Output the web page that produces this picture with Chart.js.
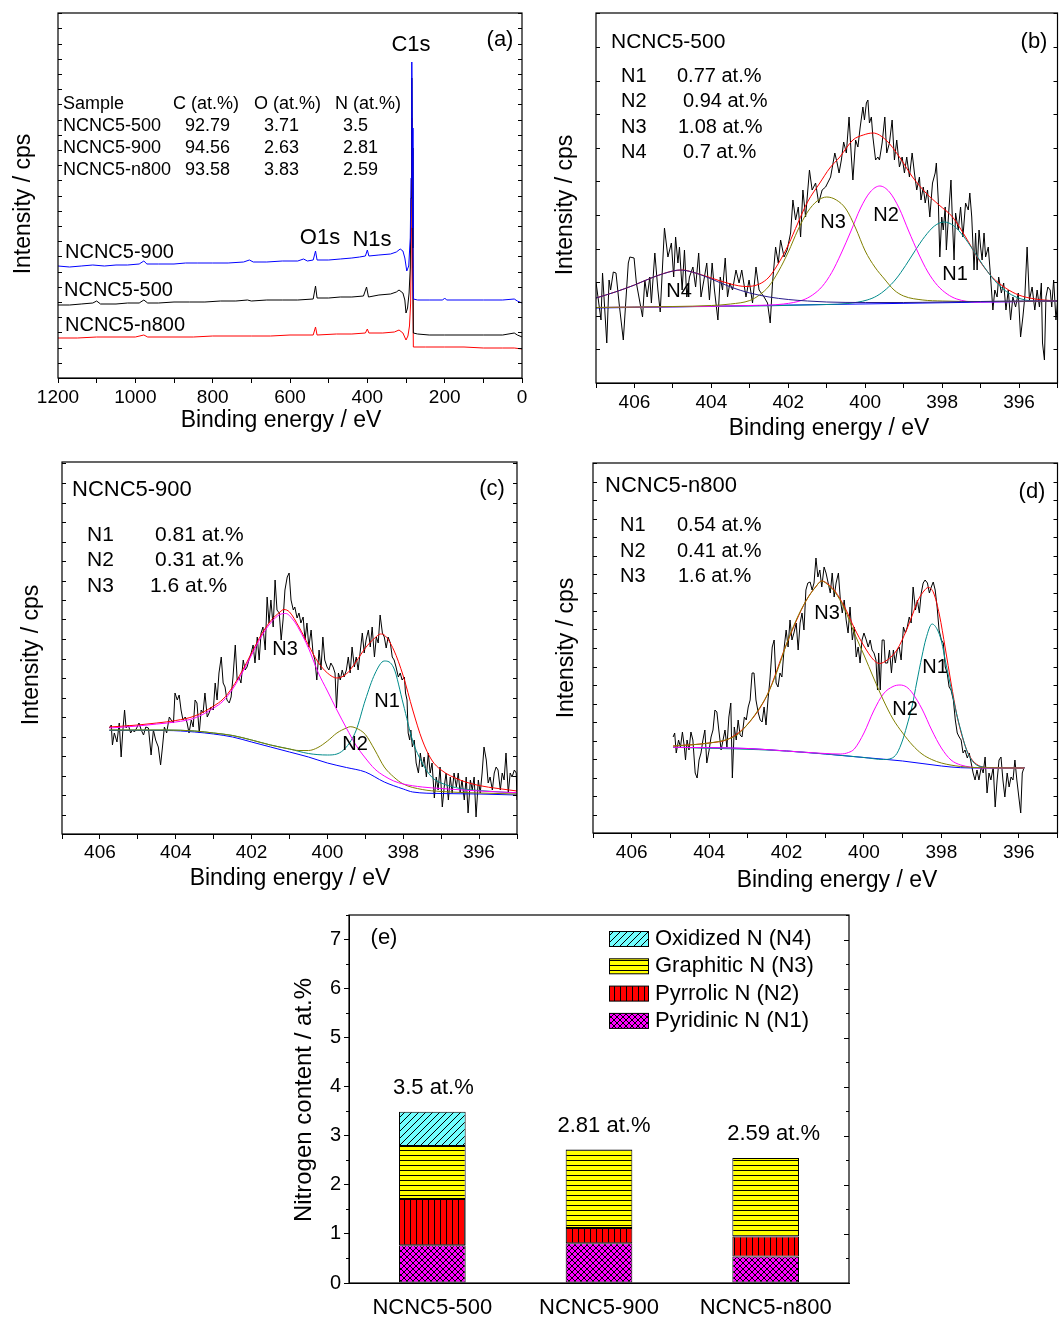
<!DOCTYPE html>
<html>
<head>
<meta charset="utf-8">
<script src="https://cdn.jsdelivr.net/npm/chart.js@4.4.1/dist/chart.umd.min.js"></script>
<style>
  body { margin: 0; background: #fff; width: 1061px; height: 1320px; position: relative; overflow: hidden; }
  canvas { position: absolute; }
</style>
</head>
<body>
<canvas id="chartA" width="545" height="445" style="left:0px;top:0px"></canvas>
<canvas id="chartB" width="516" height="445" style="left:545px;top:0px"></canvas>
<canvas id="chartC" width="545" height="450" style="left:0px;top:450px"></canvas>
<canvas id="chartD" width="516" height="450" style="left:545px;top:450px"></canvas>
<canvas id="chartE" width="620" height="420" style="left:260px;top:900px"></canvas>
<script>
// ---------- data: (a) survey spectra, [binding energy eV, intensity a.u.] ----------
var surveyN900 = [[1200,112],[1170,111],[1140,112],[1110,113],[1080,112],[1050,113],[1020,113],[990,114],[978,117],[970,114],[940,114],[900,114],[870,115],[840,115],[800,115],[760,115],[720,116],[705,118],[695,116],[660,116],[620,117],[580,117],[565,119],[555,117],[540,118],[534,127],[530,118],[500,118],[470,119],[440,120],[420,121],[405,122],[400,128],[396,122],[370,123],[340,124],[325,126],[315,129],[308,127],[303,120],[298,107],[293,112],[289,140],[287,200],[285,316],[284,250],[282,150],[281,79],[270,78],[240,78],[205,78],[200,80],[195,78],[150,78],[100,78],[50,78],[20,79],[12,77],[0,75]];
var surveyN500 = [[1200,73],[1170,73],[1140,74],[1110,75],[1100,77],[1090,74],[1050,74],[1020,75],[990,75],[978,78],[968,75],[940,75],[900,76],[860,76],[820,76],[780,77],[740,77],[710,78],[700,77],[660,78],[620,78],[580,78],[540,79],[534,92],[530,80],[500,80],[470,81],[440,81],[410,82],[402,91],[397,81],[370,83],[340,84],[325,86],[318,88],[308,85],[303,78],[300,65],[296,70],[292,85],[289,110],[287,180],[285,300],[284,230],[282,130],[281,45],[270,44],[240,43],[200,43],[150,43],[100,43],[50,43],[20,45],[12,43],[0,41]];
var surveyN800 = [[1200,40],[1150,40],[1100,41],[1050,41],[1000,41],[978,43],[968,41],[900,41],[850,41],[800,42],[750,42],[700,42],[650,42],[600,43],[540,43],[534,51],[530,43],[480,44],[440,44],[405,45],[400,49],[396,45],[360,45],[330,46],[318,48],[308,45],[300,38],[295,42],[291,52],[288,75],[286,150],[285,260],[284,190],[283,110],[281,31],[250,31],[200,31],[150,31],[100,30],[50,30],[20,30],[0,29]];
var surveyHead = ['Sample', 'C (at.%)', 'O (at.%)', 'N (at.%)'];
var surveyRows = [
  ['NCNC5-500', '92.79', '3.71', '3.5'],
  ['NCNC5-900', '94.56', '2.63', '2.81'],
  ['NCNC5-n800', '93.58', '3.83', '2.59']
];

// ---------- data: (b) NCNC5-500 N1s ----------
var bRaw = [[407.00,101],[406.87,63],[406.83,110],[406.72,40],[406.66,103],[406.62,93],[406.55,111],[406.48,110],[406.40,80],[406.29,43],[406.16,120],[406.12,126],[406.01,125],[405.95,100],[405.79,66],[405.73,103],[405.67,86],[405.60,106],[405.56,80],[405.47,130],[405.39,93],[405.33,71],[405.22,155],[405.13,126],[405.04,140],[404.98,106],[404.93,146],[404.87,120],[404.83,136],[404.76,93],[404.70,133],[404.64,86],[404.57,106],[404.48,116],[404.41,96],[404.33,130],[404.27,86],[404.18,106],[404.12,120],[404.05,83],[403.98,120],[403.92,93],[403.83,63],[403.77,106],[403.71,93],[403.64,125],[403.58,86],[403.52,100],[403.45,93],[403.36,113],[403.28,100],[403.21,113],[403.10,86],[403.02,103],[402.93,80],[402.84,116],[402.76,93],[402.63,86],[402.54,80],[402.47,60],[402.41,100],[402.33,136],[402.26,120],[402.20,143],[402.11,126],[402.03,133],[401.94,150],[401.88,183],[401.81,163],[401.74,176],[401.68,146],[401.62,193],[401.55,166],[401.45,213],[401.38,193],[401.29,200],[401.21,180],[401.12,193],[401.03,196],[400.90,206],[400.79,230],[400.73,220],[400.68,210],[400.62,223],[400.56,241],[400.49,230],[400.42,266],[400.36,226],[400.32,203],[400.25,243],[400.19,236],[400.13,256],[400.06,276],[400.02,263],[399.97,280],[399.93,283],[399.89,260],[399.84,266],[399.80,246],[399.73,223],[399.67,226],[399.63,223],[399.56,240],[399.49,266],[399.44,230],[399.37,240],[399.30,263],[399.24,223],[399.18,243],[399.11,216],[399.04,226],[398.98,210],[398.92,226],[398.85,206],[398.78,230],[398.72,210],[398.66,193],[398.59,206],[398.55,183],[398.49,196],[398.44,180],[398.38,193],[398.32,166],[398.25,200],[398.18,210],[398.15,220],[398.10,183],[398.06,126],[398.01,166],[397.97,153],[397.92,176],[397.89,133],[397.83,170],[397.77,203],[397.73,160],[397.69,123],[397.65,170],[397.58,153],[397.52,176],[397.46,146],[397.39,180],[397.32,173],[397.28,190],[397.23,166],[397.17,113],[397.13,150],[397.09,113],[397.04,153],[397.00,136],[396.96,123],[396.91,150],[396.87,126],[396.80,136],[396.74,106],[396.68,73],[396.63,93],[396.57,86],[396.53,106],[396.46,90],[396.40,100],[396.34,73],[396.28,93],[396.22,63],[396.16,86],[396.09,76],[396.02,90],[395.96,46],[395.90,66],[395.85,86],[395.79,136],[395.73,83],[395.66,96],[395.59,73],[395.53,93],[395.47,76],[395.42,100],[395.39,40],[395.34,23],[395.30,86],[395.25,96],[395.19,93],[395.15,76],[395.10,103],[395.04,63],[394.99,86]];
var bBase = [[407,75],[401,78.5],[395,82]];
var bN4 = [[407,85],[406.5,91],[406,98],[405.5,106],[405,112],[404.83,113],[404.5,111],[404,104],[403.5,96],[403,90],[402.5,86],[402,83.5],[401.5,82],[401,81],[400,80.5],[399,80.5],[398,81],[397,81.5],[396,82],[395,82]];
var bN3 = [[407,75.5],[405,76.5],[404,77.5],[403.5,79],[403,82.5],[402.75,88],[402.5,97],[402.25,112],[402,131],[401.75,153],[401.5,171],[401.25,182],[401,186],[400.75,183],[400.5,174],[400.25,155],[400,132],[399.75,116],[399.5,104],[399.25,93],[399,87],[398.5,83],[398,82],[397,81.5],[395,82]];
var bN2 = [[407,75.5],[403,77.5],[402.12,79],[401.62,83],[401.37,88],[401.12,96.5],[400.87,110.5],[400.62,130],[400.37,152],[400.12,175],[399.87,191],[399.62,197],[399.37,191],[399.12,175],[398.87,152],[398.62,130],[398.37,111],[398.12,97.5],[397.87,89],[397.62,84],[397.12,81],[395,82]];
var bN1 = [[407,75.5],[401,78.5],[400.45,79.5],[399.95,83],[399.7,87],[399.45,94],[399.2,104],[398.95,117.5],[398.7,132.5],[398.45,146.5],[398.2,157],[397.95,161],[397.7,157.3],[397.45,147],[397.2,133.3],[396.95,118.5],[396.7,105.4],[396.45,95.2],[396.2,88.3],[395.95,84.1],[395.45,81.5],[395,82]];
var bFit = [[407,85],[406.5,91],[406,98],[405.5,106],[405,112],[404.75,113],[404.5,111],[404,105],[403.5,99],[403.1,96.5],[402.75,99],[402.5,106],[402.25,120],[402,138],[401.75,160],[401.5,181],[401.18,200],[400.92,215],[400.66,226],[400.32,243],[400.05,248],[399.8,250],[399.46,243],[399.11,226],[398.77,206],[398.42,190],[398.08,178],[397.73,166],[397.39,146],[397.04,123],[396.7,106],[396.35,95],[396.01,88],[395.58,84],[395,82]];
var bShares = [['N1', '0.77 at.%'], ['N2', '0.94 at.%'], ['N3', '1.08 at.%'], ['N4', '0.7 at.%']];

// ---------- data: (c) NCNC5-900 N1s ----------
var cRaw = [[405.75,106],[405.70,109],[405.67,89],[405.62,101],[405.55,92],[405.49,111],[405.44,77],[405.40,101],[405.35,124],[405.31,106],[405.25,109],[405.19,101],[405.14,104],[405.09,102],[405.03,106],[404.97,111],[404.91,104],[404.85,99],[404.79,107],[404.72,106],[404.65,79],[404.59,104],[404.53,94],[404.46,87],[404.40,69],[404.35,87],[404.30,107],[404.24,101],[404.17,117],[404.12,114],[404.06,111],[404.02,141],[403.96,134],[403.91,139],[403.86,124],[403.81,114],[403.75,117],[403.70,111],[403.65,101],[403.59,114],[403.54,107],[403.49,134],[403.44,131],[403.38,101],[403.33,124],[403.28,121],[403.23,141],[403.17,117],[403.12,121],[403.07,127],[403.01,124],[402.96,151],[402.91,134],[402.86,161],[402.80,177],[402.75,151],[402.70,147],[402.65,134],[402.59,131],[402.54,137],[402.49,157],[402.43,189],[402.38,154],[402.33,157],[402.28,151],[402.22,174],[402.17,164],[402.12,167],[402.07,174],[402.01,181],[401.96,189],[401.91,171],[401.85,197],[401.80,174],[401.75,201],[401.70,207],[401.64,184],[401.59,237],[401.54,211],[401.49,234],[401.43,207],[401.38,254],[401.33,224],[401.27,221],[401.22,194],[401.17,214],[401.12,244],[401.06,257],[401.01,261],[400.96,234],[400.90,224],[400.86,227],[400.80,216],[400.75,221],[400.70,211],[400.64,217],[400.59,194],[400.54,211],[400.49,187],[400.43,204],[400.38,181],[400.33,174],[400.28,154],[400.22,184],[400.17,164],[400.12,197],[400.07,174],[400.01,167],[399.96,164],[399.91,171],[399.85,167],[399.80,161],[399.76,126],[399.71,161],[399.66,154],[399.61,164],[399.56,157],[399.50,164],[399.45,177],[399.40,161],[399.35,187],[399.29,167],[399.24,177],[399.19,164],[399.13,184],[399.08,201],[399.03,181],[398.98,194],[398.92,204],[398.87,187],[398.82,207],[398.76,177],[398.71,197],[398.66,191],[398.61,219],[398.55,201],[398.50,197],[398.45,186],[398.40,197],[398.34,191],[398.29,177],[398.24,174],[398.19,167],[398.13,157],[398.08,161],[398.03,154],[397.97,157],[397.94,141],[397.90,134],[397.87,101],[397.83,94],[397.80,104],[397.76,87],[397.71,94],[397.66,71],[397.60,61],[397.55,81],[397.50,67],[397.45,77],[397.39,57],[397.34,81],[397.29,61],[397.24,71],[397.18,36],[397.13,57],[397.08,44],[397.03,67],[396.97,27],[396.92,47],[396.87,61],[396.81,34],[396.76,57],[396.71,41],[396.66,61],[396.60,47],[396.55,61],[396.50,41],[396.45,54],[396.39,34],[396.34,57],[396.29,21],[396.23,54],[396.18,44],[396.13,57],[396.08,17],[396.02,54],[395.97,41],[395.92,61],[395.87,87],[395.81,74],[395.76,51],[395.71,57],[395.65,44],[395.60,61],[395.55,67],[395.50,64],[395.44,44],[395.39,61],[395.34,54],[395.29,81],[395.23,41],[395.18,61],[395.13,57],[395.07,64],[395.02,61],[395.00,34]];
var cBase = [[405.75,103.5],[405,103.5],[404.25,103.5],[403.5,102],[403,100],[402.5,97],[402,92],[401.5,87],[401,82],[400.5,77],[400,71],[399.5,66.5],[399,62],[398.5,52],[398,45],[397.75,42],[397,40.5],[396,40],[395,39]];
var cN3 = [[405.75,106],[405,108],[404.5,110],[404,112],[403.5,116],[403,126],[402.75,133],[402.5,145],[402.25,161],[402,179],[401.75,197],[401.5,211],[401.25,219.5],[401.1,220.5],[400.9,214],[400.75,205],[400.5,186],[400.25,162],[400,143],[399.75,124],[399.5,106],[399.25,89],[399,76],[398.75,65],[398.5,58],[398.25,53],[398,50],[397.5,47],[397,45.5],[396,43],[395,41.3]];
var cN2 = [[405.75,104],[404.25,104],[403.5,103],[403,101],[402.5,98.5],[402,94],[401.5,89],[401,85],[400.75,83.5],[400.5,83.5],[400.25,86.5],[400,93],[399.75,101],[399.5,106],[399.4,107.3],[399.25,106],[399,99.5],[398.75,84],[398.5,67],[398.25,57],[398,50],[397.5,44.5],[397,42.5],[396,41],[395,40]];
var cN1 = [[405.75,104],[404.25,104],[403.5,103],[403,101],[402.5,98.5],[402,94],[401.5,89],[401,85],[400.5,80.5],[400,79],[399.75,80],[399.5,87],[399.25,103],[399,134],[398.75,160],[398.5,173],[398.25,166],[398,130],[397.75,93],[397.5,71],[397.25,57],[397,51],[396.5,45.5],[396,43.5],[395,41]];
var cFit = [[405.75,107],[405,109],[404.5,111],[404,113.5],[403.5,118],[403,128],[402.75,135],[402.5,147],[402.25,163],[402,181],[401.75,199],[401.5,213],[401.25,222],[401.15,224.5],[401,222],[400.75,207],[400.5,189],[400.25,172],[400,161],[399.75,156],[399.5,160],[399.25,172],[399,186],[398.75,196],[398.6,200],[398.5,199],[398.25,184],[398,158],[397.75,124],[397.5,94],[397.25,74],[397,64],[396.5,54],[396,48.5],[395.5,45.5],[395,43]];
var cShares = [['N1', '0.81 at.%'], ['N2', '0.31 at.%'], ['N3', '1.6 at.%']];

// ---------- data: (d) NCNC5-n800 N1s ----------
var dRaw = [[404.93,96],[404.89,100],[404.85,80],[404.79,93],[404.74,86],[404.69,101],[404.64,86],[404.61,73],[404.57,93],[404.52,83],[404.47,101],[404.42,93],[404.36,60],[404.31,55],[404.26,73],[404.21,80],[404.16,93],[404.11,103],[404.06,70],[404.00,83],[403.95,96],[403.90,103],[403.85,123],[403.80,121],[403.75,103],[403.69,83],[403.64,93],[403.59,103],[403.54,86],[403.49,116],[403.44,130],[403.40,55],[403.35,106],[403.30,93],[403.25,113],[403.20,98],[403.15,96],[403.09,116],[403.04,113],[402.99,126],[402.94,133],[402.89,160],[402.84,160],[402.79,133],[402.73,120],[402.68,113],[402.63,111],[402.58,126],[402.53,108],[402.48,133],[402.43,153],[402.37,186],[402.32,193],[402.27,150],[402.22,146],[402.17,160],[402.12,156],[402.06,186],[402.01,203],[401.96,186],[401.91,213],[401.86,193],[401.81,200],[401.75,210],[401.70,183],[401.65,210],[401.60,220],[401.55,203],[401.50,243],[401.45,250],[401.39,251],[401.34,243],[401.29,250],[401.24,275],[401.19,256],[401.14,263],[401.09,246],[401.03,266],[400.98,260],[400.87,240],[400.82,260],[400.77,236],[400.72,250],[400.66,260],[400.61,233],[400.56,220],[400.51,233],[400.46,213],[400.41,200],[400.36,226],[400.30,193],[400.25,206],[400.20,176],[400.15,186],[400.10,170],[400.05,193],[400.00,200],[399.94,193],[399.89,186],[399.84,193],[399.79,183],[399.74,180],[399.69,173],[399.65,143],[399.62,180],[399.58,143],[399.53,193],[399.48,193],[399.45,170],[399.39,170],[399.34,183],[399.29,160],[399.24,183],[399.19,170],[399.14,183],[399.09,186],[399.04,173],[398.98,206],[398.93,200],[398.88,206],[398.83,216],[398.78,210],[398.73,246],[398.67,223],[398.62,233],[398.57,220],[398.52,240],[398.47,250],[398.42,253],[398.36,250],[398.31,240],[398.26,246],[398.21,251],[398.16,243],[398.11,226],[398.06,203],[398.00,193],[397.95,190],[397.90,166],[397.85,160],[397.80,146],[397.75,143],[397.69,133],[397.64,113],[397.59,100],[397.54,96],[397.49,93],[397.44,80],[397.39,83],[397.33,75],[397.28,80],[397.23,70],[397.18,60],[397.13,53],[397.08,63],[397.03,53],[396.97,66],[396.92,60],[396.87,76],[396.82,40],[396.77,60],[396.72,53],[396.66,66],[396.61,26],[396.56,53],[396.51,73],[396.46,76],[396.41,53],[396.36,36],[396.30,60],[396.25,46],[396.20,56],[396.15,53],[396.10,73],[396.05,53],[395.99,33],[395.95,20],[395.91,60],[395.86,66]];
var dBase = [[404.93,85.7],[404,85.3],[403,84.5],[402,82],[401,79],[400,75.5],[399,72],[398,67],[397.5,65.3],[397,65],[395.86,65]];
var dN3 = [[404.93,87],[404.5,88],[404,90],[403.5,94],[403.25,99],[403,109],[402.75,122],[402.5,138],[402.25,161],[402,189],[401.75,213],[401.5,232],[401.25,246],[401.09,252],[400.9,247],[400.75,241],[400.5,224],[400.25,200],[400,178],[399.75,155],[399.5,133],[399.25,114],[399,100],[398.75,88],[398.5,79],[398.25,73.5],[398,70],[397.5,66.5],[397,65.3],[395.86,65]];
var dN2 = [[404.93,85.7],[403,84.5],[402,82],[401,79.5],[400.6,79],[400.4,80.5],[400.25,84],[400,100],[399.75,122],[399.5,139],[399.25,146.5],[399.07,148],[398.9,146],[398.75,140],[398.5,124],[398.25,103],[398,85],[397.75,73],[397.5,68],[397.25,66],[397,65],[395.86,65]];
var dN1 = [[404.93,85.7],[402,82],[400,75.5],[399.5,73.5],[399.3,74.5],[399.15,79.5],[399,93],[398.9,106],[398.75,128],[398.64,150],[398.5,177],[398.4,194],[398.24,209],[398.1,203],[398,192],[397.87,167],[397.75,145],[397.6,118],[397.5,103],[397.35,83],[397.2,72],[397,66.5],[396.5,65],[395.86,65]];
var dFit = [[404.93,87],[404,90],[403.5,94],[403,109],[402.5,138],[402,189],[401.5,232],[401.25,246],[401.09,252],[400.9,248],[400.75,242],[400.5,226],[400.25,205],[400,187],[399.75,173],[399.6,169.5],[399.4,173],[399.15,183],[398.9,203],[398.75,218],[398.6,233],[398.45,242],[398.34,245.5],[398.2,240],[398.05,218],[397.9,185],[397.75,150],[397.6,118],[397.45,95],[397.3,79],[397.1,69],[396.8,65.5],[395.86,65]];
var dShares = [['N1', '0.54 at.%'], ['N2', '0.41 at.%'], ['N3', '1.6 at.%']];

// ---------- data: (e) nitrogen species, at.% ----------
var samples = ['NCNC5-500', 'NCNC5-900', 'NCNC5-n800'];
var pyridinicN = [0.77, 0.81, 0.54];
var pyrrolicN = [0.94, 0.31, 0.41];
var graphiticN = [1.08, 1.6, 1.6];
var oxidizedN = [0.7, null, null];
var totalN = [3.49, 2.72, 2.55];
var totalLabels = ['3.5 at.%', '2.81 at.%', '2.59 at.%'];

// ---------- drawing ----------
var FONT = "'Liberation Sans', Arial, Helvetica, sans-serif";
var xy = function (arr) { return arr.map(function (p) { return {x: p[0], y: p[1]}; }); };

function drawTexts(ctx, items, ox, oy) {
    items.forEach(function (it) {
        ctx.save();
        ctx.font = (it.s || 20) + 'px ' + FONT;
        ctx.fillStyle = '#000';
        ctx.textAlign = it.al || 'left';
        ctx.textBaseline = 'middle';
        ctx.translate(it.x - ox, it.y - oy);
        if (it.rot) ctx.rotate(it.rot * Math.PI / 180);
        ctx.fillText(it.t, 0, 0);
        ctx.restore();
    });
}

// frame box, inward y ticks, free text and legend
var framePlugin = {
    id: 'frame',
    afterDraw: function (chart, args, o) {
        var ctx = chart.ctx, a = chart.chartArea, ys = chart.scales.y;
        ctx.save();
        ctx.strokeStyle = '#000';
        ctx.lineWidth = 1.2;
        ctx.strokeRect(a.left, a.top, a.right - a.left, a.bottom - a.top);
        ctx.lineWidth = 1;
        if (o.yStep) {
            for (var v = ys.min; v <= ys.max + 0.01; v += o.yStep) {
                var p = Math.round(ys.getPixelForValue(v)) + 0.5;
                ctx.beginPath();
                ctx.moveTo(a.left, p); ctx.lineTo(a.left + 4, p);
                ctx.moveTo(a.right, p); ctx.lineTo(a.right - 4, p);
                ctx.stroke();
            }
        }
        if (o.barTicks) {
            for (var w = 0; w <= ys.max + 0.01; w += 0.5) {
                var q = Math.round(ys.getPixelForValue(w)) + 0.5;
                var major = Math.abs(w - Math.round(w)) < 0.01;
                ctx.beginPath();
                if (!major) { ctx.moveTo(a.left, q); ctx.lineTo(a.left - 3, q); }
                ctx.moveTo(a.right, q); ctx.lineTo(a.right - (major ? 5 : 3), q);
                ctx.stroke();
            }
        }
        if (o.legend) {
            var ds = chart.data.datasets.slice().reverse();
            ds.forEach(function (d, i) {
                var cy = o.legend.y0 + i * o.legend.dy - o.oy;
                var bx = o.legend.x - o.ox;
                ctx.fillStyle = d.backgroundColor;
                ctx.fillRect(bx, cy - 7.5, 39, 15);
                ctx.strokeRect(bx + 0.5, cy - 7.5, 39, 15);
                ctx.font = '22px ' + FONT;
                ctx.fillStyle = '#000';
                ctx.textAlign = 'left';
                ctx.textBaseline = 'middle';
                ctx.fillText(d.label, bx + 46, cy);
            });
        }
        if (o.totals) {
            var xs = chart.scales.x;
            o.totals.labels.forEach(function (t, i) {
                ctx.font = '22px ' + FONT;
                ctx.fillStyle = '#000';
                ctx.textAlign = 'center';
                ctx.textBaseline = 'middle';
                ctx.fillText(t, xs.getPixelForValue(i) + o.totals.dx[i], ys.getPixelForValue(o.totals.values[i]) - 24);
            });
        }
        drawTexts(ctx, o.texts || [], o.ox, o.oy);
        ctx.restore();
    }
};

function spectrum(id, cfg) {
    return new Chart(document.getElementById(id), {
        type: 'line',
        data: {
            datasets: cfg.lines.map(function (l) {
                return {
                    data: xy(l.data),
                    borderColor: l.color,
                    borderWidth: 1,
                    pointRadius: 0,
                    fill: false,
                    tension: 0,
                    cubicInterpolationMode: l.smooth ? 'monotone' : 'default'
                };
            })
        },
        options: {
            responsive: false,
            animation: false,
            devicePixelRatio: 1,
            layout: {padding: {left: 0, top: cfg.top, right: cfg.right, bottom: 0}},
            plugins: {legend: {display: false}, tooltip: {enabled: false}, frame: cfg.frame},
            scales: {
                x: {
                    type: 'linear', reverse: true, min: cfg.xMin, max: cfg.xMax,
                    afterFit: function (s) { s.height = cfg.xH; },
                    ticks: {
                        stepSize: cfg.xStep, autoSkip: false, maxRotation: 0, padding: cfg.tickPad, color: '#000',
                        font: {family: FONT, size: 19},
                        callback: function (v) { return v % cfg.xLabelEvery === 0 ? String(v) : ''; }
                    },
                    grid: {display: true, drawOnChartArea: false, drawTicks: true, tickLength: 5, color: '#000', lineWidth: 1},
                    border: {display: true, color: '#000', width: 1}
                },
                y: {
                    min: 0, max: cfg.yMax,
                    afterFit: function (s) { s.width = cfg.yW; },
                    ticks: {display: false}, grid: {display: false}, border: {display: false}
                }
            }
        },
        plugins: [framePlugin]
    });
}

function shareTexts(rows, x1, x2s, ys, size) {
    var out = [];
    rows.forEach(function (r, i) {
        out.push({t: r[0], x: x1, y: ys[i], s: size});
        out.push({t: r[1], x: x2s[i], y: ys[i], s: size});
    });
    return out;
}

// (a) survey
var tableTexts = [];
var colX = [63, 173, 254, 335];
var valX = [63, 185, 264, 343];
surveyHead.forEach(function (h, j) { tableTexts.push({t: h, x: colX[j], y: 104, s: 18}); });
surveyRows.forEach(function (r, i) {
    r.forEach(function (c, j) { tableTexts.push({t: c, x: valX[j], y: 126 + i * 22, s: 18}); });
});
spectrum('chartA', {
    top: 13, right: 23, xH: 67, yW: 58, tickPad: 3.5,
    xMin: 0, xMax: 1200, xStep: 100, xLabelEvery: 200, yMax: 365,
    lines: [
        {data: surveyN900, color: '#0000ff'},
        {data: surveyN500, color: '#000000'},
        {data: surveyN800, color: '#ff0000'}
    ],
    frame: {ox: 0, oy: 0, yStep: 15.2, texts: [
        {t: 'Intensity / cps', x: 24, y: 204, s: 23, al: 'center', rot: -90},
        {t: 'Binding energy / eV', x: 281, y: 421, s: 23, al: 'center'},
        {t: '(a)', x: 500, y: 40, s: 22, al: 'center'},
        {t: 'C1s', x: 411, y: 45, s: 22, al: 'center'},
        {t: 'O1s', x: 320, y: 238, s: 22, al: 'center'},
        {t: 'N1s', x: 372, y: 240, s: 22, al: 'center'},
        {t: 'NCNC5-900', x: 65, y: 252, s: 20},
        {t: 'NCNC5-500', x: 64, y: 290, s: 20},
        {t: 'NCNC5-n800', x: 65, y: 325, s: 20}
    ].concat(tableTexts)}
});

// (b) NCNC5-500
spectrum('chartB', {
    top: 13, right: 1, xH: 62, yW: 51, tickPad: 3.5,
    xMin: 395, xMax: 407, xStep: 1, xLabelEvery: 2, yMax: 370,
    lines: [
        {data: bN4, color: '#2a1c8c', smooth: true},
        {data: bN3, color: '#808000', smooth: true},
        {data: bN2, color: '#ff00ff', smooth: true},
        {data: bN1, color: '#008b8b', smooth: true},
        {data: bFit, color: '#ff0000', smooth: true},
        {data: bBase, color: '#0000ff', smooth: true},
        {data: bRaw, color: '#000000'}
    ],
    frame: {ox: 545, oy: 0, yStep: 33.6, texts: [
        {t: 'Intensity / cps', x: 566, y: 205, s: 23, al: 'center', rot: -90},
        {t: 'Binding energy / eV', x: 829, y: 429, s: 23, al: 'center'},
        {t: 'NCNC5-500', x: 611, y: 42, s: 21},
        {t: '(b)', x: 1034, y: 42, s: 22, al: 'center'},
        {t: 'N4', x: 679, y: 291, s: 20, al: 'center'},
        {t: 'N3', x: 833, y: 222, s: 20, al: 'center'},
        {t: 'N2', x: 886, y: 215, s: 20, al: 'center'},
        {t: 'N1', x: 955, y: 274, s: 20, al: 'center'}
    ].concat(shareTexts(bShares, 621, [677, 683, 678, 683], [76, 101, 127, 152], 20))}
});

// (c) NCNC5-900
spectrum('chartC', {
    top: 12, right: 28, xH: 66, yW: 62, tickPad: 2.5,
    xMin: 395, xMax: 407, xStep: 1, xLabelEvery: 2, yMax: 372,
    lines: [
        {data: cN3, color: '#ff00ff', smooth: true},
        {data: cN2, color: '#808000', smooth: true},
        {data: cN1, color: '#008b8b', smooth: true},
        {data: cFit, color: '#ff0000', smooth: true},
        {data: cBase, color: '#0000ff', smooth: true},
        {data: cRaw, color: '#000000'}
    ],
    frame: {ox: 0, oy: 450, yStep: 19.5, texts: [
        {t: 'Intensity / cps', x: 32, y: 655, s: 23, al: 'center', rot: -90},
        {t: 'Binding energy / eV', x: 290, y: 879, s: 23, al: 'center'},
        {t: 'NCNC5-900', x: 72, y: 490, s: 22},
        {t: '(c)', x: 492, y: 489, s: 22, al: 'center'},
        {t: 'N3', x: 285, y: 649, s: 20, al: 'center'},
        {t: 'N1', x: 387, y: 701, s: 20, al: 'center'},
        {t: 'N2', x: 355, y: 744, s: 20, al: 'center'}
    ].concat(shareTexts(cShares, 87, [155, 155, 150], [535, 560, 586], 21))}
});

// (d) NCNC5-n800
spectrum('chartD', {
    top: 13, right: 2, xH: 67, yW: 48, tickPad: 3.5,
    xMin: 395, xMax: 407, xStep: 1, xLabelEvery: 2, yMax: 370,
    lines: [
        {data: dN3, color: '#808000', smooth: true},
        {data: dN2, color: '#ff00ff', smooth: true},
        {data: dN1, color: '#008b8b', smooth: true},
        {data: dFit, color: '#ff0000', smooth: true},
        {data: dBase, color: '#0000ff', smooth: true},
        {data: dRaw, color: '#000000'}
    ],
    frame: {ox: 545, oy: 450, yStep: 18.5, texts: [
        {t: 'Intensity / cps', x: 567, y: 648, s: 23, al: 'center', rot: -90},
        {t: 'Binding energy / eV', x: 837, y: 881, s: 23, al: 'center'},
        {t: 'NCNC5-n800', x: 605, y: 486, s: 22},
        {t: '(d)', x: 1032, y: 492, s: 22, al: 'center'},
        {t: 'N3', x: 827, y: 613, s: 20, al: 'center'},
        {t: 'N1', x: 935, y: 667, s: 20, al: 'center'},
        {t: 'N2', x: 905, y: 709, s: 20, al: 'center'}
    ].concat(shareTexts(dShares, 620, [677, 677, 678], [525, 551, 576], 20))}
});

// (e) stacked bars with hatch patterns
var ctxE = document.getElementById('chartE').getContext('2d');
function makePattern(bg, w, h, draw) {
    var c = document.createElement('canvas');
    c.width = w; c.height = h;
    var g = c.getContext('2d');
    g.fillStyle = bg;
    g.fillRect(0, 0, w, h);
    g.strokeStyle = '#000';
    g.lineWidth = 1;
    g.beginPath();
    draw(g, w, h);
    g.stroke();
    return ctxE.createPattern(c, 'repeat');
}
var patCross = makePattern('#ff00ff', 6, 6, function (g, w, h) {
    g.moveTo(0, 0); g.lineTo(w, h);
    g.moveTo(0, h); g.lineTo(w, 0);
});
var patVert = makePattern('#ff0000', 6, 6, function (g, w, h) { g.moveTo(0.5, 0); g.lineTo(0.5, h); });
var patHorz = makePattern('#ffff00', 6, 5, function (g, w, h) { g.moveTo(0, 0.5); g.lineTo(w, 0.5); });
var patDiag = makePattern('#70ffff', 7, 7, function (g, w, h) {
    g.moveTo(0, h); g.lineTo(w, 0);
    g.moveTo(-1, 1); g.lineTo(1, -1);
    g.moveTo(w - 1, h + 1); g.lineTo(w + 1, h - 1);
});

var barStyle = {borderColor: '#000', borderWidth: 1, borderSkipped: false, barPercentage: 0.4, categoryPercentage: 1.0};
new Chart(ctxE, {
    type: 'bar',
    data: {
        labels: samples,
        datasets: [
            Object.assign({label: 'Pyridinic N (N1)', data: pyridinicN, backgroundColor: patCross}, barStyle),
            Object.assign({label: 'Pyrrolic N (N2)', data: pyrrolicN, backgroundColor: patVert}, barStyle),
            Object.assign({label: 'Graphitic N (N3)', data: graphiticN, backgroundColor: patHorz}, barStyle),
            Object.assign({label: 'Oxidized N (N4)', data: oxidizedN, backgroundColor: patDiag}, barStyle)
        ]
    },
    options: {
        responsive: false,
        animation: false,
        devicePixelRatio: 1,
        layout: {padding: {left: 0, top: 14, right: 31, bottom: 0}},
        plugins: {
            legend: {display: false},
            tooltip: {enabled: false},
            frame: {
                ox: 260, oy: 900, barTicks: true,
                legend: {x: 609, y0: 939, dy: 27.3},
                totals: {labels: totalLabels, values: totalN, dx: [1, 5, 8]},
                texts: [
                    {t: 'Nitrogen content / at.%', x: 304, y: 1100, s: 24, al: 'center', rot: -90},
                    {t: '(e)', x: 384, y: 938, s: 22, al: 'center'}
                ]
            }
        },
        scales: {
            x: {
                stacked: true,
                afterFit: function (s) { s.height = 37; },
                grid: {display: false, drawTicks: false},
                border: {display: true, color: '#000'},
                ticks: {padding: 12, color: '#000', font: {family: FONT, size: 22}}
            },
            y: {
                stacked: true, min: 0, max: 7.5,
                afterFit: function (s) { s.width = 89; },
                ticks: {stepSize: 1, includeBounds: false, padding: 3, color: '#000', font: {family: FONT, size: 20}},
                grid: {display: true, drawOnChartArea: false, drawTicks: true, tickLength: 5, color: '#000'},
                border: {display: true, color: '#000'}
            }
        }
    },
    plugins: [framePlugin]
});
</script>
</body>
</html>
